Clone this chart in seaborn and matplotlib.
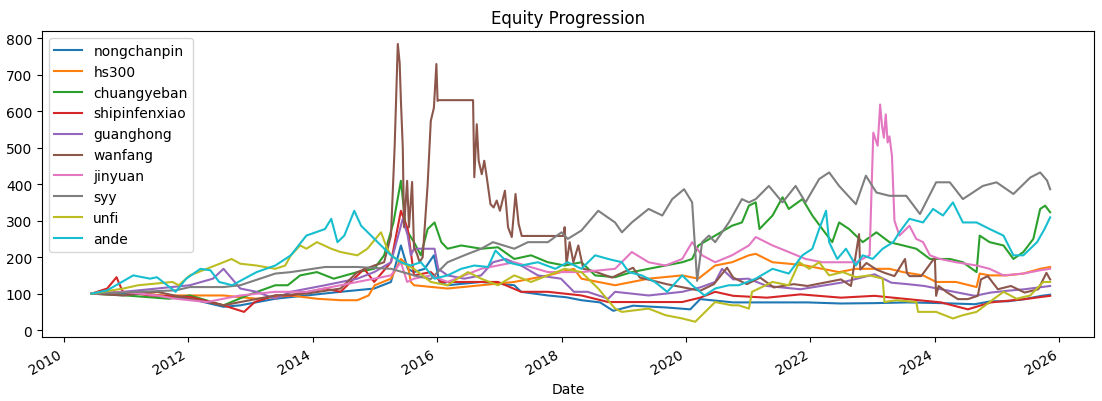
import pandas as pd
import seaborn as sns
import matplotlib.pyplot as plt
import matplotlib.dates as mdates

# values, decimal years -> equity level (start = 100)
nongchanpin_yr = [2010.45, 2011.2, 2012.03, 2012.57, 2012.84, 2013.4, 2013.9, 2014.45, 2014.99, 2015.26, 2015.42, 2015.53,
                  2015.63, 2015.8, 2015.95, 2016.04, 2016.17, 2016.71, 2017.24, 2017.35, 2017.78, 2018.08, 2018.32, 2018.62,
                  2018.83, 2019.15, 2019.69, 2020.07, 2020.23, 2020.76, 2021.3, 2021.95, 2022.49, 2023.03, 2023.56,
                  2024.1, 2024.64, 2024.9, 2025.17, 2025.44, 2025.71, 2025.85]
nongchanpin_val = [100, 100, 86, 64, 68, 86, 95, 105, 114, 132, 232, 168,
                   159, 168, 205, 132, 123, 132, 123, 105, 95, 90, 82, 76,
                   53, 67, 62, 57, 85, 76, 76, 76, 73, 74, 76,
                   74, 71, 79, 79, 85, 94, 97]

hs300_yr = [2010.45, 2011.0, 2011.6, 2012.03, 2012.57, 2013.1, 2013.65, 2014.07, 2014.45, 2014.72, 2014.9, 2015.0, 2015.26,
            2015.42, 2015.53, 2015.58, 2015.63, 2016.17, 2016.71, 2017.24, 2017.78, 2018.2, 2018.32, 2018.86, 2019.4,
            2019.94, 2020.2, 2020.47, 2020.74, 2021.01, 2021.12, 2021.39, 2021.65, 2021.92, 2022.19, 2022.46, 2022.73,
            2023.0, 2023.27, 2023.49, 2023.81, 2024.02, 2024.34, 2024.67, 2024.72, 2024.88, 2025.15, 2025.42, 2025.69, 2025.85]
hs300_val = [100, 105, 95, 95, 95, 86, 95, 86, 82, 82, 95, 123, 141,
             195, 177, 132, 123, 114, 123, 132, 150, 168, 141, 123, 141,
             150, 141, 177, 186, 205, 209, 186, 182, 177, 168, 159, 168,
             168, 168, 159, 150, 132, 132, 118, 155, 150, 150, 155, 168, 173]

chuangyeban_yr = [2010.45, 2011.0, 2011.7, 2012.03, 2012.57, 2012.95, 2013.4, 2013.6, 2013.8, 2014.07, 2014.34, 2014.72, 2014.99,
                  2015.15, 2015.3, 2015.42, 2015.5, 2015.63, 2015.74, 2015.85, 2015.96, 2016.07, 2016.17, 2016.39, 2016.71,
                  2016.98, 2017.24, 2017.51, 2017.78, 2018.05, 2018.32, 2018.54, 2018.86, 2019.13, 2019.4, 2019.67, 2019.94,
                  2020.1, 2020.2, 2020.47, 2020.74, 2020.9, 2021.01, 2021.12, 2021.18, 2021.39, 2021.55, 2021.65, 2021.87,
                  2022.03, 2022.19, 2022.35, 2022.46, 2022.62, 2022.84, 2023.06, 2023.27, 2023.49, 2023.7, 2023.92, 2024.24,
                  2024.45, 2024.67, 2024.72, 2024.88, 2025.1, 2025.26, 2025.42, 2025.58, 2025.69, 2025.77, 2025.85]
chuangyeban_val = [100, 95, 86, 95, 68, 95, 123, 123, 150, 159, 141, 159, 168,
                   205, 295, 409, 277, 241, 205, 277, 295, 241, 223, 232, 223,
                   227, 195, 205, 186, 177, 186, 150, 145, 159, 168, 177, 186,
                   195, 232, 259, 286, 295, 341, 350, 277, 314, 364, 332, 359,
                   314, 277, 241, 295, 277, 241, 268, 241, 232, 223, 195, 195,
                   186, 159, 259, 241, 232, 195, 214, 250, 332, 341, 323]

shipinfenxiao_yr = [2010.45, 2010.7, 2010.85, 2010.95, 2011.4, 2012.03, 2012.57, 2012.9, 2013.07, 2013.4, 2013.65, 2014.2,
                    2014.45, 2014.83, 2014.99, 2015.26, 2015.42, 2015.53, 2015.63, 2015.9, 2016.07, 2016.44, 2016.98, 2017.35,
                    2017.78, 2018.32, 2018.75, 2019.4, 2019.94, 2020.23, 2020.47, 2020.76, 2021.3, 2021.84, 2022.49, 2023.03,
                    2023.56, 2024.1, 2024.53, 2024.9, 2025.44, 2025.85]
shipinfenxiao_val = [100, 114, 145, 105, 95, 91, 68, 50, 77, 95, 95, 114,
                     105, 168, 132, 186, 327, 277, 150, 159, 132, 132, 132, 105,
                     105, 95, 77, 77, 77, 89, 105, 94, 89, 98, 89, 94,
                     85, 76, 57, 76, 85, 94]

guanghong_yr = [2010.45, 2010.96, 2011.5, 2012.03, 2012.4, 2012.57, 2012.84, 2013.1, 2013.4, 2013.65, 2014.2, 2014.72,
                2014.99, 2015.26, 2015.45, 2015.53, 2015.58, 2015.63, 2015.96, 2016.02, 2016.17, 2016.44, 2016.71, 2016.9,
                2017.1, 2017.35, 2017.62, 2017.99, 2018.2, 2018.42, 2018.75, 2018.86, 2019.4, 2019.94, 2020.23, 2020.47,
                2020.58, 2020.76, 2021.0, 2021.3, 2021.84, 2022.49, 2023.03, 2023.3, 2023.56, 2023.83, 2024.1, 2024.37,
                2024.64, 2024.9, 2025.17, 2025.44, 2025.85]
guanghong_val = [100, 105, 114, 123, 141, 168, 114, 105, 86, 105, 123, 141,
                 159, 186, 305, 259, 205, 223, 223, 168, 150, 141, 150, 186,
                 195, 177, 150, 141, 105, 105, 86, 105, 95, 105, 117, 132,
                 168, 139, 141, 121, 112, 130, 153, 130, 126, 121, 112, 103,
                 94, 103, 108, 112, 121]

wanfang_yr = [2010.45, 2010.96, 2011.5, 2012.03, 2012.57, 2012.84, 2013.4, 2013.9, 2014.45, 2014.72, 2014.99, 2015.15,
              2015.26, 2015.32, 2015.37, 2015.4, 2015.42, 2015.45, 2015.47, 2015.52, 2015.55, 2015.6, 2015.63, 2015.68,
              2015.72, 2015.77, 2015.85, 2015.9, 2015.95, 2015.99, 2016.01, 2016.03, 2016.58, 2016.6, 2016.64, 2016.67,
              2016.72, 2016.76, 2016.8, 2016.86, 2016.91, 2016.96, 2017.01, 2017.09, 2017.14, 2017.2, 2017.26, 2017.31,
              2017.36, 2017.42, 2017.47, 2017.55, 2018.03, 2018.05, 2018.08, 2018.13, 2018.19, 2018.27, 2018.35, 2018.51,
              2018.81, 2019.15, 2019.26, 2019.48, 2019.69, 2019.96, 2020.23, 2020.45, 2020.66, 2020.76, 2020.98, 2021.19,
              2021.41, 2021.73, 2021.95, 2022.22, 2022.49, 2022.65, 2022.78, 2022.8, 2022.9, 2023.06, 2023.19, 2023.35,
              2023.52, 2023.55, 2023.59, 2023.78, 2024.0, 2024.02, 2024.06, 2024.2, 2024.37, 2024.53, 2024.69, 2024.74,
              2024.85, 2025.01, 2025.22, 2025.44, 2025.66, 2025.79, 2025.85]
wanfang_val = [100, 95, 105, 86, 68, 77, 95, 100, 114, 159, 177, 186,
               259, 505, 784, 732, 628, 500, 282, 409, 282, 406, 227, 208,
               186, 200, 400, 573, 609, 729, 628, 630, 630, 419, 564, 464,
               427, 464, 419, 345, 336, 355, 327, 382, 282, 255, 373, 291,
               258, 258, 258, 258, 258, 282, 181, 241, 186, 232, 168, 162,
               144, 171, 144, 135, 126, 117, 108, 126, 171, 144, 126, 144,
               117, 126, 121, 130, 139, 121, 263, 166, 184, 166, 157, 148,
               195, 157, 148, 148, 199, 94, 121, 103, 85, 85, 94, 139,
               148, 112, 121, 103, 112, 157, 139]

jinyuan_yr = [2010.45, 2010.96, 2011.5, 2011.8, 2012.3, 2012.84, 2013.4, 2013.9, 2014.45, 2014.99, 2015.26, 2015.42,
              2015.52, 2015.63, 2015.9, 2016.17, 2016.71, 2017.24, 2017.78, 2018.32, 2018.86, 2019.13, 2019.4, 2019.67,
              2019.94, 2020.1, 2020.26, 2020.47, 2020.74, 2021.01, 2021.12, 2021.39, 2021.65, 2021.92, 2022.19, 2022.46,
              2022.73, 2022.95, 2023.01, 2023.08, 2023.12, 2023.15, 2023.18, 2023.21, 2023.24, 2023.27, 2023.31, 2023.35,
              2023.43, 2023.59, 2023.7, 2023.81, 2023.92, 2024.08, 2024.34, 2024.67, 2024.88, 2025.1, 2025.42, 2025.69, 2025.85]
jinyuan_val = [100, 105, 95, 86, 77, 95, 105, 105, 123, 141, 150, 186,
               132, 141, 150, 132, 168, 186, 159, 159, 168, 214, 186, 177,
               195, 241, 205, 186, 205, 232, 255, 232, 214, 195, 186, 186,
               186, 205, 541, 505, 618, 560, 527, 591, 514, 531, 477, 300,
               259, 286, 250, 241, 205, 195, 186, 177, 168, 150, 155, 164, 168]

syy_yr = [2010.45, 2011.2, 2011.8, 2012.03, 2012.57, 2012.84, 2013.4, 2013.65, 2014.2, 2014.72, 2015.26, 2015.53,
          2015.63, 2015.9, 2016.17, 2016.44, 2016.71, 2016.9, 2017.24, 2017.46, 2017.78, 2018.0, 2018.1, 2018.32,
          2018.59, 2018.86, 2018.97, 2019.13, 2019.4, 2019.62, 2019.78, 2019.97, 2020.1, 2020.18, 2020.26, 2020.37,
          2020.47, 2020.69, 2020.9, 2021.01, 2021.12, 2021.33, 2021.55, 2021.76, 2021.92, 2022.14, 2022.3, 2022.46,
          2022.73, 2022.89, 2023.06, 2023.27, 2023.54, 2023.76, 2024.02, 2024.24, 2024.45, 2024.77, 2024.99, 2025.26,
          2025.53, 2025.69, 2025.8, 2025.85]
syy_val = [100, 105, 109, 118, 118, 123, 155, 159, 173, 173, 168, 155,
           150, 140, 186, 205, 223, 241, 223, 241, 241, 268, 250, 273,
           327, 295, 268, 295, 332, 314, 359, 386, 350, 135, 241, 259,
           241, 295, 359, 350, 359, 395, 350, 395, 350, 414, 432, 395,
           345, 423, 377, 368, 368, 318, 405, 405, 359, 395, 405, 373,
           418, 432, 410, 386]

unfi_yr = [2010.45, 2010.96, 2011.2, 2011.75, 2011.85, 2012.03, 2012.3, 2012.57, 2012.7, 2012.84, 2013.1, 2013.4,
           2013.56, 2013.65, 2013.8, 2013.9, 2014.07, 2014.3, 2014.45, 2014.72, 2014.88, 2015.1, 2015.2, 2015.26,
           2015.42, 2015.63, 2015.9, 2016.17, 2016.33, 2016.5, 2016.71, 2016.98, 2017.24, 2017.51, 2017.78, 2018.05,
           2018.32, 2018.59, 2018.86, 2018.97, 2019.4, 2019.67, 2019.94, 2020.15, 2020.31, 2020.47, 2020.74, 2020.85,
           2021.01, 2021.06, 2021.39, 2021.65, 2021.82, 2021.98, 2022.14, 2022.3, 2022.52, 2022.73, 2022.95, 2023.16,
           2023.19, 2023.38, 2023.7, 2023.73, 2024.02, 2024.29, 2024.45, 2024.67, 2024.88, 2025.1, 2025.31, 2025.53,
           2025.74, 2025.85]
unfi_val = [100, 114, 123, 132, 123, 150, 168, 186, 195, 182, 177, 168,
            177, 205, 232, 223, 241, 223, 214, 205, 223, 268, 223, 205,
            186, 168, 132, 123, 141, 159, 141, 123, 150, 132, 150, 168,
            159, 114, 59, 50, 59, 41, 32, 23, 50, 77, 68, 68,
            59, 105, 132, 123, 186, 168, 186, 150, 159, 145, 150, 141,
            77, 82, 77, 50, 50, 32, 41, 50, 77, 105, 86, 95,
            132, 132]

ande_yr = [2010.45, 2010.7, 2011.12, 2011.39, 2011.5, 2011.8, 2011.97, 2012.2, 2012.36, 2012.5, 2012.71, 2013.1,
           2013.4, 2013.65, 2013.9, 2014.2, 2014.3, 2014.4, 2014.51, 2014.67, 2014.78, 2014.94, 2015.1, 2015.26,
           2015.42, 2015.58, 2015.74, 2015.96, 2016.17, 2016.39, 2016.6, 2016.82, 2016.94, 2017.13, 2017.35, 2017.62,
           2017.9, 2018.1, 2018.32, 2018.54, 2018.75, 2018.97, 2019.08, 2019.29, 2019.5, 2019.7, 2019.94, 2020.1,
           2020.3, 2020.47, 2020.69, 2020.85, 2021.12, 2021.39, 2021.65, 2021.87, 2022.03, 2022.14, 2022.25, 2022.3,
           2022.43, 2022.57, 2022.73, 2022.84, 2023.0, 2023.16, 2023.33, 2023.43, 2023.59, 2023.81, 2023.97, 2024.13,
           2024.29, 2024.45, 2024.67, 2024.88, 2025.1, 2025.26, 2025.42, 2025.64, 2025.76, 2025.85]
ande_val = [100, 109, 150, 141, 145, 105, 141, 168, 164, 132, 123, 159,
            177, 205, 259, 277, 305, 241, 259, 327, 286, 259, 232, 205,
            186, 177, 186, 141, 150, 168, 177, 173, 218, 186, 177, 186,
            168, 186, 168, 205, 195, 186, 159, 150, 132, 105, 150, 123,
            95, 114, 123, 123, 141, 168, 155, 205, 223, 277, 327, 241,
            195, 223, 177, 205, 195, 223, 241, 268, 305, 295, 332, 314,
            350, 295, 295, 277, 259, 205, 205, 241, 277, 309]

series_names = ["nongchanpin", "hs300", "chuangyeban", "shipinfenxiao", "guanghong",
                "wanfang", "jinyuan", "syy", "unfi", "ande"]
series_data = [
    (nongchanpin_yr, nongchanpin_val), (hs300_yr, hs300_val), (chuangyeban_yr, chuangyeban_val),
    (shipinfenxiao_yr, shipinfenxiao_val), (guanghong_yr, guanghong_val), (wanfang_yr, wanfang_val),
    (jinyuan_yr, jinyuan_val), (syy_yr, syy_val), (unfi_yr, unfi_val), (ande_yr, ande_val),
]


def to_date(y):
    start = pd.Timestamp(year=int(y), month=1, day=1)
    return start + pd.Timedelta(days=(y - int(y)) * 365.25)


frames = []
for name, (yrs, vals) in zip(series_names, series_data):
    frames.append(pd.DataFrame({
        "Date": [to_date(y) for y in yrs],
        "equity": vals,
        "series": name,
    }))
df = pd.concat(frames, ignore_index=True)

fig, ax = plt.subplots(figsize=(11.02, 4.02), dpi=100)
sns.lineplot(data=df, x="Date", y="equity", hue="series", hue_order=series_names,
             palette="tab10", estimator=None, sort=False, linewidth=1.5, ax=ax)

handles, labels = ax.get_legend_handles_labels()
ax.legend(handles, labels, loc="upper left")

ax.set_title("Equity Progression")
ax.set_xlabel("Date")
ax.set_ylabel("")
ax.xaxis.set_major_locator(mdates.YearLocator(2))
ax.xaxis.set_major_formatter(mdates.DateFormatter("%Y"))
ax.set_xlim(to_date(2009.65), to_date(2026.56))
ax.set_ylim(-19, 819)
for lbl in ax.get_xticklabels():
    lbl.set_rotation(30)
    lbl.set_horizontalalignment("right")

plt.subplots_adjust(left=0.038, right=0.993, top=0.920, bottom=0.159)
plt.savefig("out.png")
